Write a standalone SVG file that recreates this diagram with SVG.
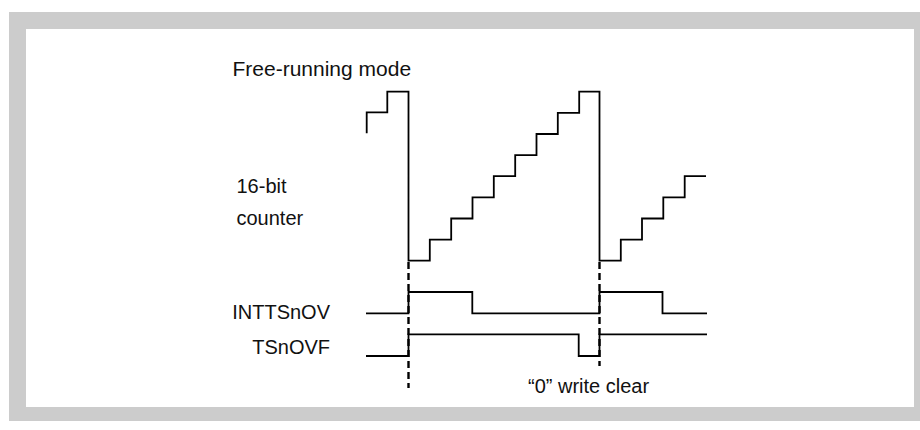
<svg xmlns="http://www.w3.org/2000/svg" width="920" height="430" viewBox="0 0 920 430">
  <style>
    .lbl { font-family: "Liberation Sans", Arial, Helvetica, sans-serif; font-size: 20px; fill: #111; }
    .wave { fill: none; stroke: #000; stroke-width: 1.8; stroke-linejoin: miter; }
    .dash { fill: none; stroke: #000; stroke-width: 2.4; stroke-dasharray: 7 4; }
  </style>
  <rect x="0" y="0" width="920" height="430" fill="#ffffff"/>
  <g id="frame">
    <rect x="9" y="12" width="920" height="409" fill="#cccccc"/>
    <rect x="26" y="29" width="888" height="378" fill="#ffffff"/>
  </g>
  <g id="labels">
    <text class="lbl" x="232.5" y="76" style="font-size:21px">Free-running mode</text>
    <text class="lbl" x="236.5" y="193">16-bit</text>
    <text class="lbl" x="236.5" y="225">counter</text>
    <text class="lbl" x="330" y="319" text-anchor="end">INTTSnOV</text>
    <text class="lbl" x="330" y="354" text-anchor="end">TSnOVF</text>
    <text class="lbl" x="528" y="393">“0” write clear</text>
  </g>
  <g id="counter">
    <path class="wave" d="M366.7,133.3 V112.3 H387.3 V91.7 H408.5 V260.7 H429.8 V239.6 H451.2 V218.5 H472.5 V197.3 H493.8 V176.2 H515.2 V155.1 H536.5 V134 H557.8 V112.8 H579.2 V91.7 H599.5 V260.7 H620.8 V239.6 H642 V218.5 H663.3 V197.3 H684.7 V176.2 H706"/>
  </g>
  <g id="inttsnov">
    <path class="wave" d="M366,313.3 H408.5 V292 H472.3 V313.3 H599.5 V292 H662.5 V313.3 H707"/>
  </g>
  <g id="tsnovf">
    <path class="wave" d="M366,356 H408.5 V334.3 H578.7 V356 H599.5 V334.3 H707"/>
  </g>
  <g id="connectors">
    <line class="dash" x1="408.5" y1="262" x2="408.5" y2="388"/>
    <line class="dash" x1="599.5" y1="262" x2="599.5" y2="366"/>
  </g>
</svg>
